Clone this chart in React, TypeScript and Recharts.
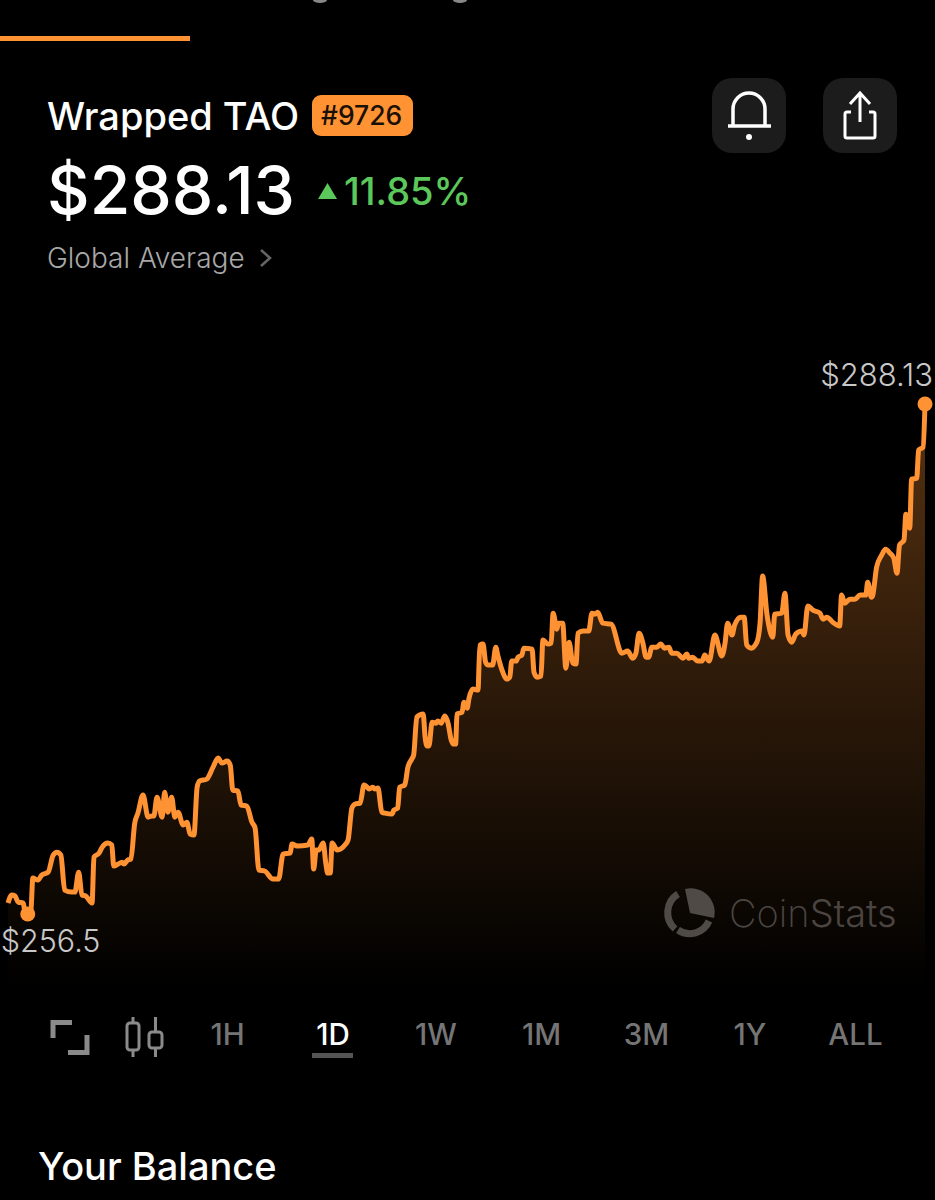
import React from 'react';
import { AreaChart, Area, XAxis, YAxis, ReferenceDot } from 'recharts';

// minutes since the start of the 1D window
const minutes = [
	0, 6, 11, 16, 24, 27, 31, 36, 39, 47, 53, 63, 71, 77, 83, 89, 100, 105, 111, 116, 122, 132, 135, 143, 148, 157, 163, 166, 173, 179,
	182, 188, 193, 199, 204, 212, 220, 226, 229, 234, 242, 246, 251, 257, 262, 267, 275, 281, 286, 292, 297, 301, 312, 322, 330, 336, 344, 349, 353, 361,
	366, 375, 383, 388, 394, 403, 416, 425, 432, 443, 446, 454, 471, 477, 480, 484, 488, 495, 499, 502, 506, 509, 517, 529, 534, 540, 545, 553, 559, 564,
	567, 573, 576, 581, 587, 592, 603, 606, 612, 615, 623, 628, 634, 637, 642, 652, 655, 658, 661, 666, 672, 675, 680, 686, 691, 696, 699, 703, 705, 713,
	716, 721, 724, 730, 738, 741, 746, 750, 754, 761, 766, 769, 777, 783, 788, 791, 798, 801, 807, 810, 823, 826, 831, 837, 840, 848, 853, 856, 862, 864,
	871, 876, 881, 887, 892, 895, 903, 912, 917, 922, 926, 934, 947, 964, 973, 981, 986, 991, 997, 1002, 1006, 1011, 1019, 1025, 1031, 1038, 1042, 1050, 1060, 1066,
	1069, 1075, 1083, 1090, 1094, 1101, 1110, 1121, 1126, 1130, 1137, 1141, 1151, 1156, 1160, 1167, 1176, 1181, 1185, 1192, 1201, 1204, 1215, 1220, 1225, 1231, 1237, 1247, 1250, 1256,
	1264, 1275, 1280, 1286, 1295, 1306, 1309, 1314, 1322, 1330, 1338, 1347, 1350, 1356, 1358, 1364, 1372, 1378, 1385, 1391, 1396, 1400, 1407, 1410, 1416, 1419, 1427, 1430, 1437, 1440,
];

const prices = [
	257.18, 257.68, 257.62, 257.24, 257.18, 256.56, 256.5, 256.75, 258.73, 258.61, 258.92, 259.1, 260.16, 260.34, 260.16, 257.99, 257.86, 257.86, 259.1, 257.68, 257.62, 257.18, 260.03, 260.28, 260.65, 260.9, 260.78, 259.48, 259.6, 259.72,
	259.6, 259.85, 259.91, 262.14, 262.76, 263.88, 262.51, 262.58, 262.58, 263.75, 262.51, 264.06, 262.82, 263.75, 262.51, 262.82, 262.02, 262.2, 261.46, 261.4, 264.37, 264.75, 264.87, 265.61, 266.17, 265.86, 265.99, 265.74, 264.19, 264.13,
	263.26, 263.2, 262.2, 261.83, 259.23, 259.17, 258.67, 258.67, 260.22, 260.28, 260.84, 260.72, 260.78, 261.15, 259.29, 260.47, 260.47, 260.9, 259.66, 259.04, 259.04, 260.9, 260.47, 260.78, 261.09, 263.07, 263.32, 263.38, 264.5, 264.37,
	264.25, 264.37, 264.25, 264.31, 262.82, 262.76, 262.7, 262.95, 263.07, 264.37, 264.5, 265.61, 266.11, 266.36, 268.71, 268.9, 267.47, 266.92, 266.92, 268.4, 268.34, 268.47, 268.34, 268.78, 268.34, 267.29, 267.04, 267.04, 268.9, 269.02,
	269.64, 269.27, 269.89, 270.45, 270.39, 273.18, 273.24, 272.12, 271.94, 271.94, 273.05, 272.56, 271.5, 271.07, 271.19, 272.19, 272.19, 272.43, 272.56, 272.99, 272.93, 271.5, 271.19, 271.26, 273.49, 273.24, 273.3, 275.16, 274.17, 274.54,
	274.54, 271.75, 273.36, 272.06, 272.0, 273.92, 274.05, 274.05, 275.16, 275.1, 275.22, 274.54, 274.48, 272.68, 272.81, 272.37, 272.68, 273.92, 273.3, 272.43, 272.43, 273.05, 273.05, 273.24, 272.99, 273.05, 272.68, 272.68, 272.37, 272.62,
	272.37, 272.43, 272.19, 272.19, 272.56, 272.19, 273.8, 272.5, 273.3, 274.54, 273.8, 274.42, 274.91, 274.91, 273.18, 272.99, 273.36, 274.54, 277.46, 275.04, 273.67, 275.1, 275.16, 276.4, 273.8, 273.36, 273.86, 274.05, 273.8, 275.6,
	275.35, 275.16, 274.79, 274.91, 274.6, 274.36, 276.28, 275.78, 276.03, 276.03, 276.28, 276.28, 277.08, 276.15, 276.28, 278.01, 278.76, 279.13, 278.88, 278.57, 277.64, 279.38, 279.69, 281.3, 280.43, 283.47, 283.53, 285.27, 285.45, 288.13,
];

const priceDomain = [251.79, 290.86];
const ranges = ['1H', '1D', '1W', '1M', '3M', '1Y', 'ALL'];
const rangeX = [227.5, 333, 436, 541.5, 646.5, 750, 855.5];

const chartData = minutes.map((minute, i) => ({ minute, price: prices[i] }));
const lowIndex = prices.indexOf(Math.min(...prices));
const lastIndex = prices.length - 1;

const ORANGE = '#ff9233';
const FONT = 'Inter, "Noto Sans", sans-serif';

const textStyle = (left: number, top: number, size: number, weight: number, color: string): React.CSSProperties => ({
	position: 'absolute',
	left,
	top,
	fontSize: size,
	fontWeight: weight,
	color,
	lineHeight: 1,
	whiteSpace: 'nowrap',
});

function PriceDot(props: any) {
	const { cx, cy, text, textX, textY, anchor, size } = props;
	return (
		<g>
			<circle cx={cx} cy={cy} r={7.5} fill={ORANGE} />
			<text x={cx + textX} y={cy + textY} textAnchor={anchor} fontFamily={FONT} fontSize={size} fontWeight={300} fill="#c8c8c8">{text}</text>
		</g>
	);
}

function Icons() {
	return (
		<svg width={935} height={1200} style={{ position: 'absolute', left: 0, top: 0 }}>
			{/* header buttons */}
			<rect x={712} y={78} width={74} height={75} rx={20} fill="#1c1c1c" />
			<rect x={823} y={78} width={74} height={75} rx={20} fill="#1c1c1c" />
			<path d="M733 126V109a16 16 0 0 1 32 0V126M728 126H771" fill="none" stroke="#fff" strokeWidth={3.5} />
			<circle cx={749} cy={137} r={3} fill="#fff" />
			<path d="M851 112H847a2 2 0 0 0 -2 2V136a2 2 0 0 0 2 2H873a2 2 0 0 0 2 -2V114a2 2 0 0 0 -2 -2H869" fill="none" stroke="#fff" strokeWidth={3} />
			<path d="M860 122V94M850 104L860 93L870 104" fill="none" stroke="#fff" strokeWidth={3} />
			{/* change triangle and chevron */}
			<path d="M318 199L327.5 183L337 199Z" fill="#5cc85c" />
			<path d="M261 250L270 258L261 266" fill="none" stroke="#666" strokeWidth={2.5} />
			{/* clipped tab captions at the very top */}
			<ellipse cx={320} cy={0} rx={7} ry={3} fill="#888" />
			<ellipse cx={460} cy={0} rx={7} ry={3} fill="#888" />
			{/* fullscreen */}
			<path d="M53 1038V1022.500H72M87 1035V1052.500H68" fill="none" stroke="#8a8a8a" strokeWidth={5} />
			{/* candles */}
			<rect x={127} y={1023} width={12} height={27} rx={3} fill="none" stroke="#8a8a8a" strokeWidth={3} />
			<rect x={149} y={1032} width={13} height={16} rx={3} fill="none" stroke="#8a8a8a" strokeWidth={3} />
			<path d="M133 1017V1023M133 1050V1057M155.500 1017V1032M155.500 1048V1057" stroke="#8a8a8a" strokeWidth={3} />
			{/* range underline */}
			<rect x={312} y={1053} width={41} height={5} fill="#555" />
			{/* watermark */}
			<path d="M685 889L690 913L714 918A24 24 0 0 0 685 889Z" fill="#4f4a46" />
			<path d="M678 894A22 22 0 0 0 675 929" fill="none" stroke="#4f4a46" strokeWidth={7} />
			<path d="M678 930A21 21 0 0 0 709 921" fill="none" stroke="#4f4a46" strokeWidth={7} />
		</svg>
	);
}

export default function App() {
	return (
		<div style={{ position: 'fixed', left: 0, top: 0, width: 935, height: 1200, background: '#000', overflow: 'hidden', fontFamily: FONT }}>
			<div style={{ position: 'absolute', left: 0, top: 36, width: 190, height: 5, background: ORANGE }} />

			<AreaChart
				width={935}
				height={1200}
				data={chartData}
				margin={{ top: 360, right: 10, bottom: 210, left: 8 }}
				style={{ position: 'absolute', left: 0, top: 0 }}
			>
				<defs>
					<linearGradient id="priceFill" x1="0" y1="0" x2="0" y2="1">
						<stop offset="0%" stopColor={ORANGE} stopOpacity={0.34} />
						<stop offset="100%" stopColor={ORANGE} stopOpacity={0} />
					</linearGradient>
				</defs>
				<XAxis type="number" dataKey="minute" domain={[0, 1440]} hide />
				<YAxis type="number" domain={priceDomain} hide />
				<Area
					type="monotone"
					dataKey="price"
					stroke={ORANGE}
					strokeWidth={5}
					strokeLinejoin="round"
					fill="url(#priceFill)"
					fillOpacity={1}
					isAnimationActive={false}
				/>
				<ReferenceDot
					x={minutes[lowIndex]}
					y={prices[lowIndex]}
					ifOverflow="visible"
					shape={(p: any) => <PriceDot {...p} text="$256.5" textX={-27} textY={38} anchor="start" size={30.500} />}
				/>
				<ReferenceDot
					x={minutes[lastIndex]}
					y={prices[lastIndex]}
					ifOverflow="visible"
					shape={(p: any) => <PriceDot {...p} text="$288.13" textX={8} textY={-18} anchor="end" size={31} />}
				/>
			</AreaChart>

			<Icons />

			<div style={textStyle(47, 97, 38, 500, '#fff')}>Wrapped TAO</div>
			<div style={{ position: 'absolute', left: 312, top: 95, width: 101, height: 41, borderRadius: 9, background: ORANGE }} />
			<div style={textStyle(321, 102, 26.500, 500, '#1a1005')}>#9726</div>
			<div style={textStyle(47, 157, 66, 500, '#fff')}>$288.13</div>
			<div style={textStyle(344, 172, 38, 500, '#5cc85c')}>11.85%</div>
			<div style={textStyle(47, 244, 28, 300, '#a8a8a8')}>Global Average</div>

			{ranges.map((range, i) => (
				<div key={range} style={{ ...textStyle(rangeX[i], 1020, 29.500, 500, range === '1D' ? '#fff' : '#757575'), transform: 'translateX(-50%)' }}>{range}</div>
			))}

			<div style={textStyle(729, 894, 38, 200, '#4a4542')}>
				Coin<span style={{ fontWeight: 300 }}>Stats</span>
			</div>
			<div style={textStyle(38, 1147, 38, 500, '#fff')}>Your Balance</div>
		</div>
	);
}
